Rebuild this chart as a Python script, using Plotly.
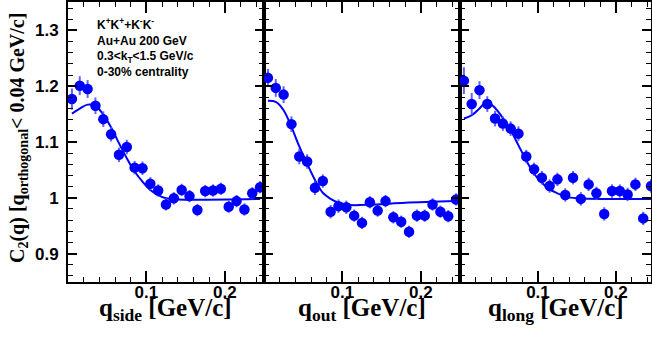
import plotly.graph_objects as go

# ---------------- data ----------------
q_bins = [0.005 + 0.01 * k for k in range(25)]

side_c2 = [1.177, 1.201, 1.195, 1.165, 1.141, 1.114, 1.077, 1.091, 1.054, 1.053,
           1.025, 1.013, 0.988, 0.999, 1.014, 1.003, 0.978, 1.012, 1.013, 1.016,
           0.984, 0.994, 0.979, 1.008, 1.019]
side_err = [0.019, 0.017, 0.016, 0.015, 0.014, 0.013, 0.013, 0.013, 0.012, 0.012,
            0.012, 0.011, 0.011, 0.011, 0.011, 0.011, 0.011, 0.011, 0.011, 0.011,
            0.011, 0.011, 0.011, 0.011, 0.011]

out_c2 = [1.215, 1.197, 1.185, 1.132, 1.074, 1.065, 1.018, 1.030, 0.975, 0.985,
          0.983, 0.968, 0.955, 0.992, 0.977, 0.994, 0.965, 0.957, 0.939, 0.968,
          0.968, 0.988, 0.975, 0.967, 0.997]
out_err = [0.016, 0.016, 0.015, 0.014, 0.014, 0.013, 0.013, 0.012, 0.012, 0.012,
           0.012, 0.011, 0.011, 0.011, 0.011, 0.011, 0.011, 0.011, 0.011, 0.011,
           0.011, 0.011, 0.011, 0.011, 0.011]

long_c2 = [1.210, 1.168, 1.193, 1.168, 1.142, 1.133, 1.124, 1.115, 1.074, 1.051,
           1.036, 1.021, 1.033, 1.005, 1.036, 0.998, 1.024, 1.008, 0.971, 1.012,
           1.012, 1.006, 1.024, 0.963, 1.021]
long_err = [0.024, 0.020, 0.016, 0.014, 0.014, 0.013, 0.013, 0.013, 0.012, 0.012,
            0.012, 0.012, 0.012, 0.012, 0.012, 0.012, 0.012, 0.012, 0.012, 0.012,
            0.012, 0.012, 0.012, 0.012, 0.012]

# fit curves
side_fit_q = [0.005, 0.015, 0.025, 0.035, 0.045, 0.055, 0.065, 0.075, 0.085, 0.095,
              0.105, 0.115, 0.125, 0.14, 0.245]
side_fit = [1.151, 1.160, 1.167, 1.165, 1.149, 1.126, 1.098, 1.071, 1.047, 1.029,
            1.014, 1.005, 0.999, 0.997, 0.998]

out_fit_q = [0.005, 0.015, 0.025, 0.035, 0.045, 0.055, 0.065, 0.075, 0.085, 0.095,
             0.11, 0.14, 0.18, 0.245]
out_fit = [1.174, 1.172, 1.157, 1.127, 1.092, 1.061, 1.032, 1.009, 0.998, 0.991,
           0.987, 0.988, 0.991, 0.994]

long_fit_q = [0.005, 0.015, 0.025, 0.03, 0.035, 0.04, 0.045, 0.055, 0.065, 0.075,
              0.085, 0.095, 0.105, 0.115, 0.125, 0.135, 0.15, 0.245]
long_fit = [1.142, 1.148, 1.160, 1.167, 1.168, 1.167, 1.161, 1.143, 1.121, 1.094,
            1.067, 1.043, 1.027, 1.015, 1.008, 1.002, 0.999, 0.998]

x_titles = ["side", "out", "long"]
y_tick_vals = [0.9, 1.0, 1.1, 1.2, 1.3]
y_tick_text = ["0.9", "1", "1.1", "1.2", "1.3"]
x_tick_vals = [0.1, 0.2]
x_tick_text = ["0.1", "0.2"]
info_lines = ["K<sup>+</sup>K<sup>+</sup>+K<sup>-</sup>K<sup>-</sup>",
              "Au+Au 200 GeV",
              "0.3&lt;k<sub>T</sub>&lt;1.5 GeV/c",
              "0-30% centrality"]

# ---------------- layout geometry ----------------
W, H = 652, 339
px_x = [(68, 264), (264, 460), (460, 651)]
x_ranges = [(0, 0.25), (0, 0.25), (0, 0.245)]
y_dom = [(339 - 282) / H, (339 - 2) / H]
y_range = [0.849, 1.351]

BLUE = "#0000ff"
ERRC = "rgba(70,70,255,0.85)"
TNR = "Liberation Serif, Times New Roman, serif"
ARL = "Liberation Sans, Arial, sans-serif"

fig = go.Figure()

datasets = [(side_c2, side_err, side_fit_q, side_fit),
            (out_c2, out_err, out_fit_q, out_fit),
            (long_c2, long_err, long_fit_q, long_fit)]

for i, (c2, err, fq, fv) in enumerate(datasets):
    sfx = "" if i == 0 else str(i + 1)
    fig.add_trace(go.Scatter(
        x=fq, y=fv, mode="lines", line=dict(color=BLUE, width=2, shape="spline"),
        xaxis="x" + sfx, yaxis="y" + sfx, showlegend=False, hoverinfo="skip"))
    fig.add_trace(go.Scatter(
        x=q_bins, y=c2, mode="markers",
        marker=dict(color=BLUE, size=10.5, line=dict(width=0)),
        error_y=dict(type="data", array=err, color=ERRC, thickness=2, width=0),
        xaxis="x" + sfx, yaxis="y" + sfx, showlegend=False, cliponaxis=False))

minor_x = [round(0.02 * k, 3) for k in range(1, 13)]
minor_y = [round(0.86 + 0.02 * k, 3) for k in range(25)]

layout = dict(
    template="none",
    width=W, height=H, margin=dict(l=0, r=0, t=0, b=0, autoexpand=False),
    paper_bgcolor="white", plot_bgcolor="white", showlegend=False,
)
for i in range(3):
    sfx = "" if i == 0 else str(i + 1)
    x0, x1 = px_x[i]
    layout["xaxis" + sfx] = dict(
        domain=[x0 / W, x1 / W], range=list(x_ranges[i]), automargin=False,
        anchor="y" + sfx, showgrid=False, zeroline=False,
        showline=True, linecolor="black", linewidth=2, mirror="ticks",
        ticks="inside", ticklen=11, tickwidth=1.5, tickcolor="black",
        tickmode="array", tickvals=x_tick_vals,
        ticktext=["<b>%s</b>" % t for t in x_tick_text],
        tickfont=dict(family=ARL, size=17, color="black"),
        ticklabelstandoff=-6,
        minor=dict(tickmode="array", tickvals=minor_x, ticks="inside",
                   ticklen=5, tickwidth=1.2, tickcolor="black"),
    )
    layout["yaxis" + sfx] = dict(
        domain=list(y_dom), range=y_range, automargin=False,
        anchor="x" + sfx, showgrid=False, zeroline=False,
        showline=True, linecolor="black", linewidth=2, mirror="ticks",
        ticks="inside", ticklen=9, tickwidth=1.5, tickcolor="black",
        tickmode="array", tickvals=y_tick_vals,
        ticktext=["<b>%s</b>" % t for t in y_tick_text],
        showticklabels=(i == 0),
        tickfont=dict(family=ARL, size=17, color="black"),
        ticklabelstandoff=4,
        minor=dict(tickmode="array", tickvals=minor_y, ticks="inside",
                   ticklen=5, tickwidth=1.2, tickcolor="black"),
    )

fig.update_layout(**layout)

ann = []
# x-axis titles
for i, name in enumerate(x_titles):
    x0, x1 = px_x[i]
    ann.append(dict(
        text="<b>q<sub>%s</sub> [GeV/c]</b>" % name,
        x=(x0 + x1) / 2 / W, y=1 - 292 / H, xref="paper", yref="paper",
        xanchor="center", yanchor="top", showarrow=False,
        font=dict(family=TNR, size=25, color="black")))
# y-axis title
ann.append(dict(
    text="<b>C<sub>2</sub>(q) [q<sub>orthogonal</sub>&lt; 0.04 GeV/c]</b>",
    x=18 / W, y=1 - 138 / H, xref="paper", yref="paper",
    xanchor="center", yanchor="middle", textangle=-90, showarrow=False,
    font=dict(family=TNR, size=20, color="black")))
# info text block
ann.append(dict(
    text="<br>".join("<b>%s</b>" % t for t in info_lines),
    x=95 / W, y=1 - 14 / H, xref="paper", yref="paper",
    xanchor="left", yanchor="top", align="left", showarrow=False,
    font=dict(family=ARL, size=12, color="black")))
fig.update_layout(annotations=ann)

fig.write_html("out.html", config={"displayModeBar": False},
               post_script="document.body.style.margin='0';document.body.style.padding='0';")
